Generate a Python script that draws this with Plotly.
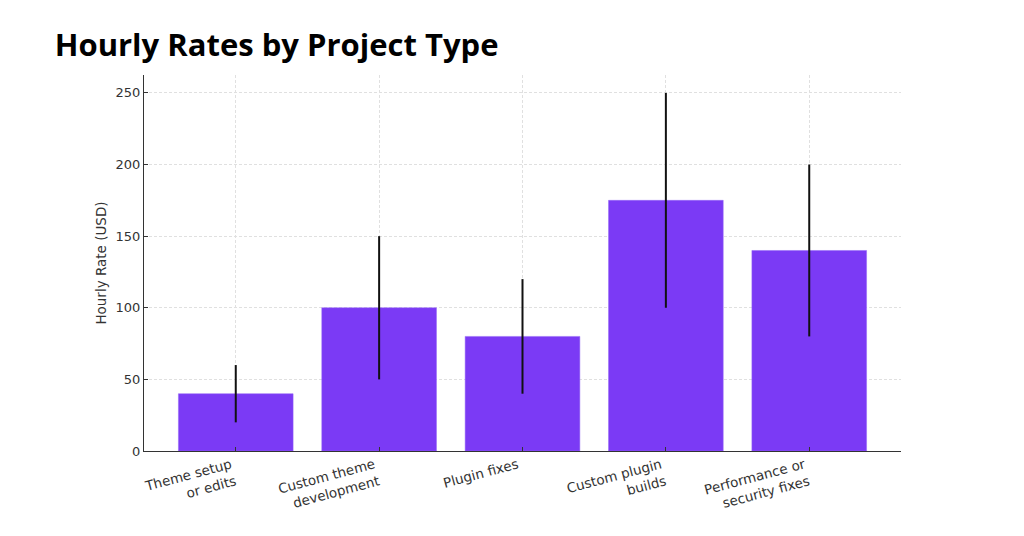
import plotly.graph_objects as go

categories = ["Theme setup<br>or edits", "Custom theme<br>development", "Plugin fixes",
              "Custom plugin<br>builds", "Performance or<br>security fixes"]
mid_rate = [40, 100, 80, 175, 140]
low_rate = [20, 50, 40, 100, 80]
high_rate = [60, 150, 120, 250, 200]

err_plus = [h - m for h, m in zip(high_rate, mid_rate)]
err_minus = [m - l for m, l in zip(mid_rate, low_rate)]

fig = go.Figure()
fig.add_trace(go.Bar(
    x=list(range(len(categories))),
    y=mid_rate,
    width=0.8,
    marker=dict(color="#7b3af5", line=dict(color="#9566f7", width=0.5)),
    error_y=dict(type="data", symmetric=False, array=err_plus, arrayminus=err_minus,
                 color="#111111", thickness=2, width=0),
))

fig.update_layout(
    width=1016, height=528,
    margin=dict(l=136, r=123, t=67, b=85),
    paper_bgcolor="white", plot_bgcolor="white",
    showlegend=False,
    font=dict(family="DejaVu Sans", size=13, color="#333333"),
    title=dict(text="<b>Hourly Rates by Project Type</b>", x=0.046, xanchor="left",
               y=0.93, yanchor="middle",
               font=dict(family="Open Sans", size=31, color="#000000")),
)
fig.update_xaxes(
    range=[-0.64, 4.64],
    tickmode="array", tickvals=list(range(len(categories))), ticktext=categories,
    tickangle=-15, ticks="inside", ticklen=4, tickcolor="#333333",
    ticklabelshift=-5,
    showline=True, linecolor="#333333", linewidth=1,
    showgrid=True, gridcolor="#e0e0e0", griddash="3px,2px", gridwidth=0.8,
    zeroline=False, tickfont=dict(size=13.5, color="#333333"),
)
fig.update_yaxes(
    range=[0, 262.5], tickvals=[0, 50, 100, 150, 200, 250],
    ticks="inside", ticklen=4, tickcolor="#333333",
    showline=True, linecolor="#333333", linewidth=1,
    showgrid=True, gridcolor="#e0e0e0", griddash="3px,2px", gridwidth=0.8,
    zeroline=False,
    title=dict(text="Hourly Rate (USD)", font=dict(size=13.5, color="#333333"), standoff=5),
    tickfont=dict(size=13, color="#333333"),
)

fig.write_html("out.html")
